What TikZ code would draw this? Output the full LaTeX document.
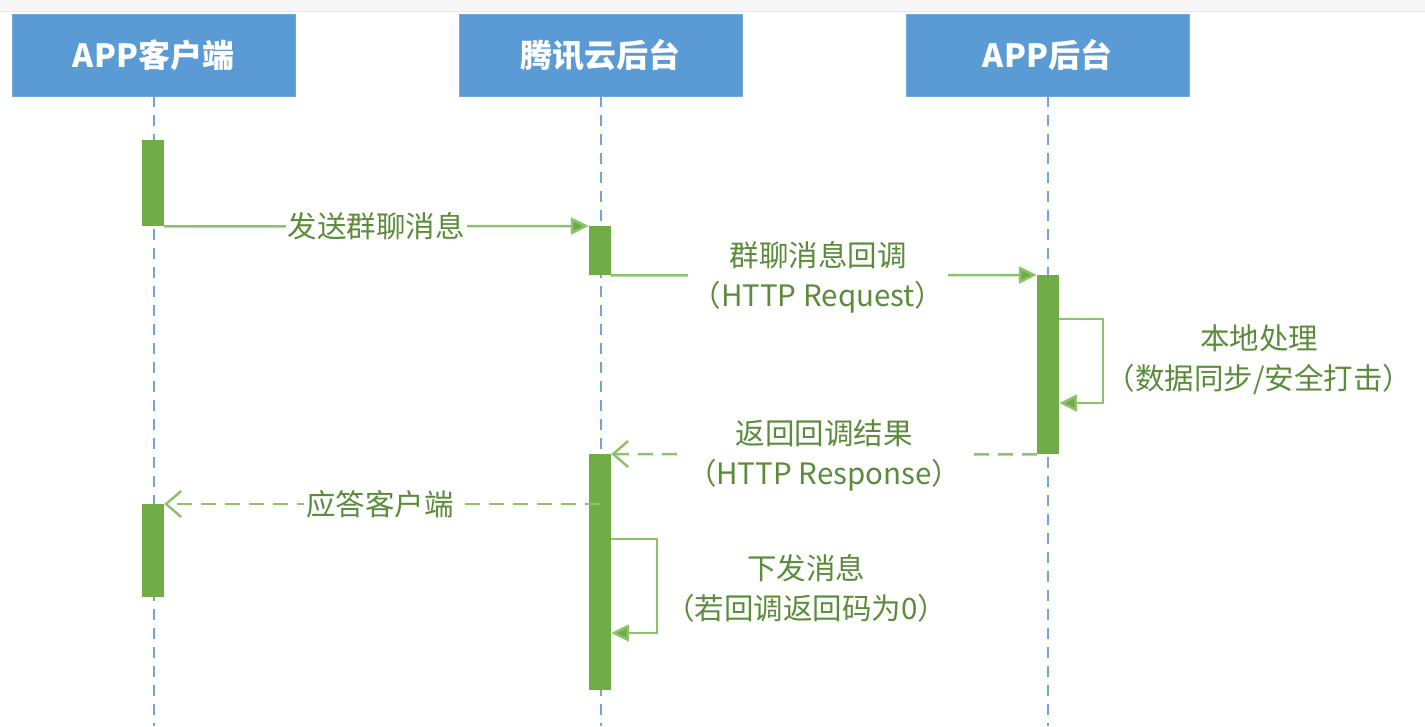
\documentclass[tikz,border=0pt]{standalone}
\usepackage{fontspec}
\setmainfont{Noto Sans CJK SC}
\usetikzlibrary{arrows.meta,calc}
\definecolor{hdrblue}{HTML}{5B9BD5}
\definecolor{barg}{HTML}{70AD47}
\definecolor{lineg}{HTML}{8CC36A}
\definecolor{txtg}{HTML}{5A8C3A}
\definecolor{lifeblue}{HTML}{6FA6DA}
\tikzset{
  hdrbox/.style={fill=hdrblue, draw=hdrblue!85!white, line width=0.8pt, minimum width=283pt, minimum height=82pt, inner sep=0pt, text=white, font=\fontsize{32}{38}\selectfont\bfseries},
  lifeline/.style={draw=lifeblue, line width=2pt, dash pattern=on 11pt off 8pt},
  actbar/.style={fill=barg, draw=none, minimum width=22pt, inner sep=0pt, anchor=north},
  syncmsg/.style={draw=lineg, line width=2.5pt, -{Triangle[length=18pt,width=17pt,fill=barg]}},
  replymsg/.style={draw=lineg, line width=2.5pt, dash pattern=on 15pt off 9pt, -{Straight Barb[length=15pt,width=26pt,line width=2.5pt]}},
  loopmsg/.style={draw=lineg, line width=2.5pt, -{Triangle[length=18pt,width=17pt,fill=barg]}},
  msglabel/.style={fill=white, inner sep=2pt, text=txtg, align=center, font=\fontsize{29.5}{40}\selectfont},
  notelabel/.style={inner sep=0pt, text=txtg, align=center, font=\fontsize{29.5}{40}\selectfont}
}
\begin{document}
\begin{tikzpicture}[x=1pt,y=-1pt]
\useasboundingbox (0,0) rectangle (1425,726);
% top band
\fill[gray!6] (0,0) rectangle (1425,11);
\draw[gray!18, line width=1pt] (0,11) -- (1425,11);
% headers
\node[hdrbox] (h1) at (153.5,55) {APP客户端};
\node[hdrbox] (h2) at (600.5,55) {腾讯云后台};
\node[hdrbox] (h3) at (1047.5,55) {APP后台};
\coordinate (bot) at (0,726);
% lifelines
\draw[lifeline] (h1.south) -- (h1.south |- bot);
\draw[lifeline] (h2.south) -- (h2.south |- bot);
\draw[lifeline] (h3.south) -- (h3.south |- bot);
% activation bars
\node[actbar, minimum height=86pt] (b1) at (153,140) {};
\node[actbar, minimum height=49pt] (b2) at (600,226) {};
\node[actbar, minimum height=179pt] (b3) at (1048,275) {};
\node[actbar, minimum height=236pt] (b4) at (600,454) {};
\node[actbar, minimum height=93pt] (b5) at (153,504) {};
% messages
\draw[syncmsg] (b1.south east) -- (b2.north west);
\node[msglabel] (m1) at (376,226) {发送群聊消息};
\draw[syncmsg] (b2.south east) -- (b3.north west);
\node[msglabel, inner xsep=4pt] (m2) at (818,277) {群聊消息回调\\（HTTP Request）};
% self loop on APP backend
\coordinate (la) at (1103,319);
\coordinate (lb) at (1103,403);
\draw[loopmsg] (b3.east |- la) -- (la) -- (lb) -- (b3.east |- lb);
\node[notelabel] (n1) at (1259,360) {本地处理\\（数据同步/安全打击）};
% response
\draw[replymsg] (b3.south west) -- (b4.north east);
\node[msglabel, inner xsep=6pt] (m3) at (824,455) {返回回调结果\\（HTTP Response）};
% reply to client
\coordinate (ra) at (600,504);
\draw[replymsg] (ra) -- (b5.north east);
\node[msglabel] (m4) at (380,504) {应答客户端};
% self loop on Tencent
\coordinate (lc) at (657,539);
\coordinate (ld) at (657,633);
\draw[loopmsg] (b4.east |- lc) -- (lc) -- (ld) -- (b4.east |- ld);
\node[notelabel] (n2) at (806,588) {下发消息\\（若回调返回码为0）};
\end{tikzpicture}
\end{document}
